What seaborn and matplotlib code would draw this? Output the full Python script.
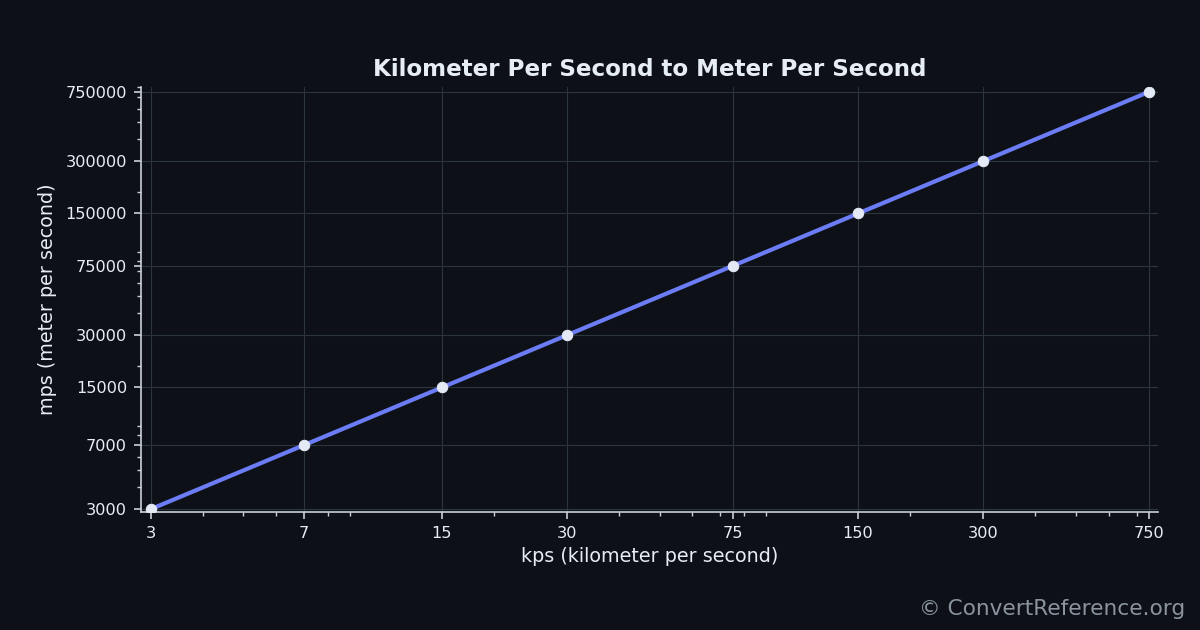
import matplotlib
matplotlib.use("Agg")
import matplotlib.pyplot as plt
import matplotlib.ticker as mticker
import seaborn as sns
import pandas as pd

kps = [3, 7, 15, 30, 75, 150, 300, 750]
mps = [3000, 7000, 15000, 30000, 75000, 150000, 300000, 750000]
x_ticks = [3, 7, 15, 30, 75, 150, 300, 750]
y_ticks = [3000, 7000, 15000, 30000, 75000, 150000, 300000, 750000]

title = "Kilometer Per Second to Meter Per Second"
xlabel = "kps (kilometer per second)"
ylabel = "mps (meter per second)"
credit = "© ConvertReference.org"

bg = "#0d1117"
fg = "#e6edf3"
line_color = "#6b7cf5"
grid_color = "#2c343c"
spine_color = "#c9d1d9"

sns.set_theme(style="dark")
plt.rcParams['font.family'] = ['DejaVu Sans']

df = pd.DataFrame({"kps": kps, "mps": mps})

fig = plt.figure(figsize=(12, 6.3), dpi=100, facecolor=bg)
ax = fig.add_axes([0.1175, 0.187, 0.8475, 0.675])
ax.set_facecolor(bg)

sns.lineplot(data=df, x="kps", y="mps", ax=ax, color=line_color, linewidth=3,
             marker="o", markersize=7.5, markerfacecolor="#e3e9f5",
             markeredgecolor="#e3e9f5", zorder=3)

ax.set_xscale("log")
ax.set_yscale("log")
ax.set_xlim(2.84, 788)
ax.set_ylim(2880, 800000)

ax.xaxis.set_major_locator(mticker.FixedLocator(x_ticks))
ax.xaxis.set_major_formatter(mticker.FixedFormatter([str(v) for v in x_ticks]))
ax.yaxis.set_major_locator(mticker.FixedLocator(y_ticks))
ax.yaxis.set_major_formatter(mticker.FixedFormatter([str(v) for v in y_ticks]))
ax.xaxis.set_minor_locator(mticker.LogLocator(base=10, subs=range(2, 10)))
ax.yaxis.set_minor_locator(mticker.LogLocator(base=10, subs=range(2, 10)))
ax.xaxis.set_minor_formatter(mticker.NullFormatter())
ax.yaxis.set_minor_formatter(mticker.NullFormatter())

ax.grid(True, which="major", color=grid_color, linewidth=0.8)
ax.grid(False, which="minor")

for s in ["top", "right"]:
    ax.spines[s].set_visible(False)
for s in ["left", "bottom"]:
    ax.spines[s].set_visible(True)
    ax.spines[s].set_color(spine_color)
    ax.spines[s].set_linewidth(1.2)

ax.tick_params(axis="both", which="major", colors=spine_color, labelcolor=fg,
               labelsize=11.6, length=5, width=1.2, direction="out", bottom=True, left=True,
               pad=5)
ax.tick_params(axis="both", which="minor", colors=spine_color, length=3, width=1,
               direction="out", bottom=True, left=True)

ax.set_title(title, color=fg, fontsize=16.6, fontweight="bold", pad=8)
ax.set_xlabel(xlabel, color=fg, fontsize=13.8, labelpad=4)
ax.set_ylabel(ylabel, color=fg, fontsize=13.8, labelpad=6)

fig.text(0.988, 0.017, credit, color="#8b949e", fontsize=15.6, ha="right", va="bottom")

fig.savefig("out.png", dpi=100, facecolor=bg)
